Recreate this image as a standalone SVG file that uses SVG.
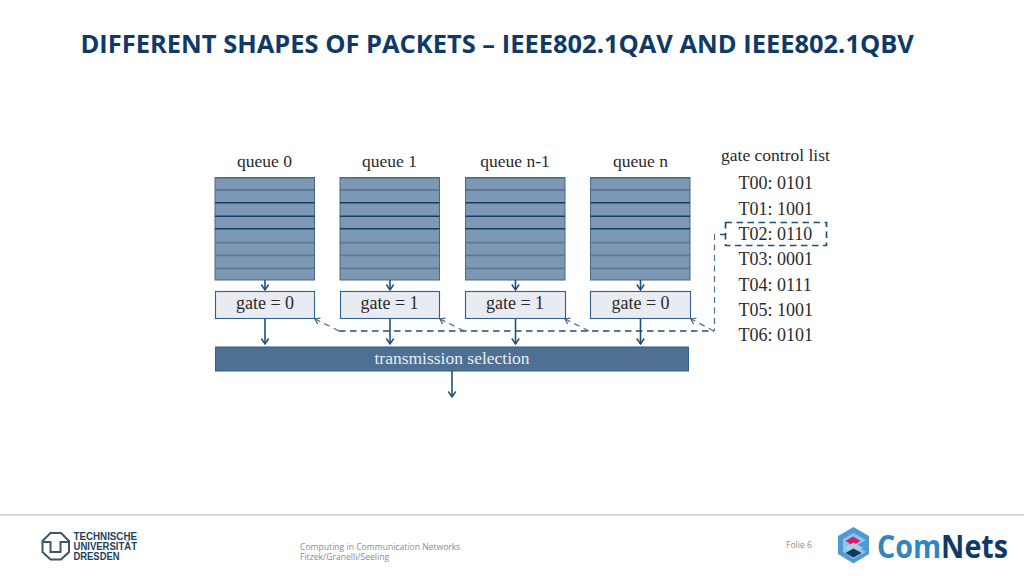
<svg xmlns="http://www.w3.org/2000/svg" width="1024" height="576" viewBox="0 0 1024 576">
<defs>
<marker id="ah" markerWidth="9" markerHeight="9" refX="7" refY="4.5" orient="auto" markerUnits="userSpaceOnUse"><path d="M1.500,0.800 L7,4.500 L1.500,8.200" fill="none" stroke="#1f4e79" stroke-width="1.500"/></marker>
<marker id="ahd" markerWidth="8" markerHeight="8" refX="6" refY="4" orient="auto" markerUnits="userSpaceOnUse"><path d="M1.500,0.800 L6,4 L1.500,7.200" fill="none" stroke="#3f6283" stroke-width="1.200"/></marker>
<g id="q">
<rect x="0" y="0" width="99.5" height="102.5" fill="#7d98b3"/>
<path d="M0,0.300H99.5M0,12.500H99.500M0,65.200H99.500M0,77.800H99.500M0,90.800H99.500" fill="none" stroke="#58799a" stroke-width="1.800"/>
<rect x="0" y="0" width="99.500" height="102.500" fill="none" stroke="#47698a" stroke-width="1"/>
<path d="M0,25.200H99.500M0,38.800H99.500M0,51.200H99.500" stroke="#0f3d6b" stroke-width="1.500"/>
</g>
</defs>
<style>
.t{font-family:"Liberation Serif","Times New Roman",serif;font-size:17.5px;fill:#2a2a2a}
.l{font-size:18px}
.m{text-anchor:middle}
.g{fill:#e8ebf1;stroke:#2f5f8c;stroke-width:1.1}
.a{stroke:#1f4e79;stroke-width:1.600;fill:none;marker-end:url(#ah)}
.d{stroke:#1f4e79;stroke-width:1.700;fill:none;stroke-dasharray:6.500 4.500}
.dg{stroke:#4d6f8f;stroke-width:1.200;fill:none;stroke-dasharray:6 4.500}
.f{font-family:"Open Sans","Noto Sans",sans-serif;fill:#8c8c8c;font-size:8.600px}
</style>
<rect width="1024" height="576" fill="#fff"/>
<text id="title" x="80.5" y="53" font-family="'Open Sans','Noto Sans',sans-serif" font-weight="700" font-size="25.480px" fill="#0f3a68">DIFFERENT SHAPES OF PACKETS – IEEE802.1QAV AND IEEE802.1QBV</text>

<g id="queue0"><text class="t m" x="264.5" y="167">queue 0</text><use href="#q" x="215" y="177.5"/></g>
<g id="queue1"><text class="t m" x="389.5" y="167">queue 1</text><use href="#q" x="340" y="177.5"/></g>
<g id="queuen1"><text class="t m" x="515" y="167">queue n-1</text><use href="#q" x="465.5" y="177.5"/></g>
<g id="queuen"><text class="t m" x="640.5" y="167">queue n</text><use href="#q" x="590.5" y="177.5"/></g>

<g id="gate0"><rect class="g" x="215.5" y="291.5" width="99" height="27"/><text class="t l m" x="265" y="309">gate = 0</text></g>
<g id="gate1"><rect class="g" x="340.5" y="291.5" width="99" height="27"/><text class="t l m" x="389.5" y="309">gate = 1</text></g>
<g id="gate2"><rect class="g" x="465.5" y="291.5" width="100" height="27"/><text class="t l m" x="515" y="309">gate = 1</text></g>
<g id="gate3"><rect class="g" x="590.5" y="291.5" width="100" height="27"/><text class="t l m" x="640.5" y="309">gate = 0</text></g>

<g id="selection"><rect x="215.5" y="347" width="473" height="24" fill="#4f7093" stroke="#2f5f8c" stroke-width="1"/><text class="m" x="452" y="364" font-family="'Liberation Serif',serif" font-size="17.5px" fill="#e8edf3">transmission selection</text></g>

<g id="gcl">
<text class="t" x="721" y="161">gate control list</text>
<text class="t l" x="738.500" y="189">T00: 0101</text>
<text class="t l" x="738.500" y="215">T01: 1001</text>
<text class="t l" x="738.500" y="240">T02: 0110</text>
<text class="t l" x="738.500" y="265">T03: 0001</text>
<text class="t l" x="738.500" y="291">T04: 0111</text>
<text class="t l" x="738.500" y="316">T05: 1001</text>
<text class="t l" x="738.500" y="341">T06: 0101</text>
<rect class="d" x="725.500" y="222.500" width="101" height="23" stroke-dasharray="5.500 4"/>
</g>

<g id="connectors">
<path class="a" d="M265,280V290"/><path class="a" d="M390,280V290"/><path class="a" d="M515.500,280V290"/><path class="a" d="M640.500,280V290"/>
<path class="a" d="M265,319V344"/><path class="a" d="M390,319V344"/><path class="a" d="M515.500,319V344"/><path class="a" d="M640.500,319V344"/>
<path class="a" d="M452,371V397"/>
<path class="d" d="M339,331H714"/>
<path d="M720,234.500H725" fill="none" stroke="#1f4e79" stroke-width="1.500"/>
<path class="dg" d="M714.500,234V331" stroke-dasharray="4.500 4"/>
<path class="dg" marker-end="url(#ahd)" d="M339,331L315,319"/>
<path class="dg" marker-end="url(#ahd)" d="M464,331L440,319"/>
<path class="dg" marker-end="url(#ahd)" d="M589,331L565,319"/>
<path class="dg" marker-end="url(#ahd)" d="M714,331L691,319"/>
</g>

<g id="footer">
<rect x="0" y="514" width="1024" height="1.500" fill="#c9c9c9"/>
<g id="tud">
<path d="M50.500,533H61L69,541V552L61,559.500H50.500L42.500,552V541Z" fill="none" stroke="#3d5568" stroke-width="2"/>
<path d="M42.500,542H50.500V552H60.500V542H69" fill="none" stroke="#3d5568" stroke-width="2"/>
<g font-family="'Liberation Sans',sans-serif" font-weight="700" font-size="10.600px" fill="#1f3f5f"><text x="73.500" y="540" textLength="63.500" lengthAdjust="spacingAndGlyphs">TECHNISCHE</text><text x="73.500" y="550" textLength="63.500" lengthAdjust="spacingAndGlyphs">UNIVERSITÄT</text><text x="73.500" y="560" textLength="46" lengthAdjust="spacingAndGlyphs">DRESDEN</text></g>
</g>
<text class="f" x="300" y="549.500">Computing in Communication Networks</text>
<text class="f" x="300" y="560">Fitzek/Granelli/Seeling</text>
<text class="f" x="786" y="548">Folie 6</text>
<g id="comnets">
<path d="M853.500,527L869,536V554L853.500,563.500L838,554V536Z" fill="#4f9bd1"/>
<path d="M853.500,533L866,540L856,546L866,552L853.500,559L843,552V539Z" fill="#8cc4e6"/>
<path d="M853,536.500L860.500,541L853,545.500L845.500,541Z" fill="#d91a6d"/>
<path d="M853.500,542.500L863,548L853.500,553L844,548Z" fill="#a9cfe0"/>
<path d="M853.500,548.500L861.500,553L853.500,557.500L845.500,553Z" fill="#12375f"/>
<text x="877" y="558" font-family="'Open Sans',sans-serif" font-weight="700" font-size="31.500px" textLength="131" lengthAdjust="spacingAndGlyphs"><tspan fill="#2f86c1">Com</tspan><tspan fill="#0f3a68">Nets</tspan></text>
</g>
</g>
</svg>
